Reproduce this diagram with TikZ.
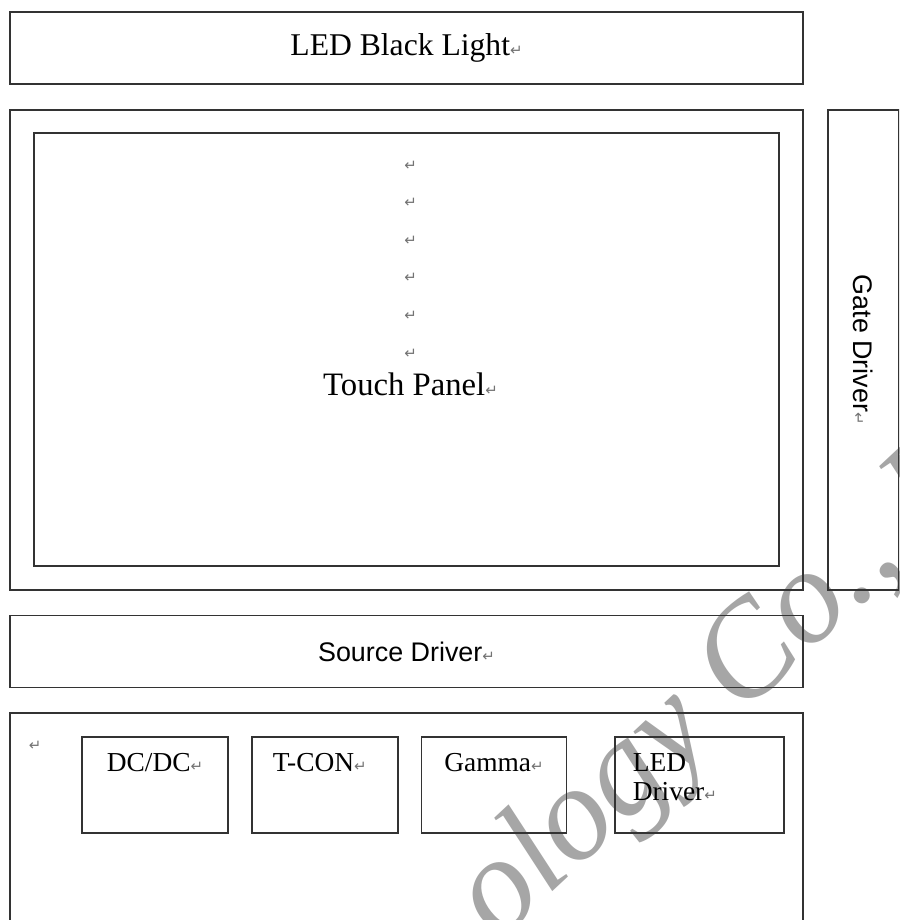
\documentclass[tikz,border=0pt]{standalone}
\usepackage{fontspec}
\setmainfont{Liberation Serif}
\setsansfont{Liberation Sans}
\newfontfamily\markfont{DejaVu Sans}
\usetikzlibrary{positioning}
\newcommand{\pmark}{{\markfont\fontsize{8.5}{8.5}\selectfont\color{black!55}\char"21B5}}

\begin{document}
\begin{tikzpicture}[
  node distance=0.48cm,
  box/.style={rectangle, draw=black!80, line width=1pt, minimum width=15.86cm, minimum height=1.44cm, align=center, inner sep=0pt},
  sub/.style={rectangle, draw=black!80, line width=1pt, minimum width=2.92cm, minimum height=1.92cm, inner sep=0pt},
  serif/.style={font=\fontsize{18}{21}\selectfont},
  sans/.style={font=\sffamily\fontsize{15.3}{18}\selectfont},
  sublbl/.style={anchor=north, inner sep=0pt, yshift=-0.34cm, font=\fontsize{15.6}{16.5}\selectfont, align=left}
]
\path[use as bounding box, fill=white] (0,0) rectangle (17.98,-18.4);
\clip (0,0) rectangle (17.98,-18.4);

% watermark
\node[rotate=43, anchor=base west, inner sep=0pt, text=black!35, font=\itshape\fontsize{76.5}{76.5}\selectfont] (wmark) at (9.96,-18.86) {ology Co., L};

% panel stack
\node[box, serif] (backlight) at (8.13,-0.96) {LED Black Light\pmark};
\node[box, minimum height=9.6cm, below=of backlight] (lcd) {};
\node[box, minimum width=14.9cm, minimum height=8.66cm] (touch) at (lcd.center) {};
\node[anchor=south, inner sep=0pt, align=center, font=\fontsize{18.6}{21.4}\selectfont] (tptext) at ([xshift=0.08cm, yshift=-5.28cm]touch.north) {\pmark\\\pmark\\\pmark\\\pmark\\\pmark\\\pmark\\Touch Panel\pmark};
\node[box, sans, minimum width=1.42cm, minimum height=9.6cm, right=0.46cm of lcd] (gate) {\rotatebox{-90}{Gate Driver\pmark}};
\node[box, sans, below=of lcd] (source) {Source Driver\pmark};
\node[box, minimum height=5cm, below=of source] (board) {};

% board parts
\node[inner sep=0pt] (boardmark) at ([xshift=0.52cm, yshift=-0.66cm]board.north west) {\pmark};
\node[sub, below right=0.48cm and 1.44cm of board.north west, label={[sublbl, name=dcdctext]north:DC/DC\pmark}] (dcdc) {};
\node[sub, right=0.44cm of dcdc, label={[sublbl, name=tcontext, xshift=-0.1cm]north:T-CON\pmark}] (tcon) {};
\node[sub, minimum width=2.9cm, right=0.44cm of tcon, label={[sublbl, name=gammatext]north:Gamma\pmark}] (gamma) {};
\node[sub, minimum width=3.38cm, right=0.94cm of gamma, label={[sublbl, name=leddrvtext, anchor=north west, xshift=0.36cm]north west:LED\\Driver\pmark}] (leddrv) {};
\end{tikzpicture}
\end{document}
